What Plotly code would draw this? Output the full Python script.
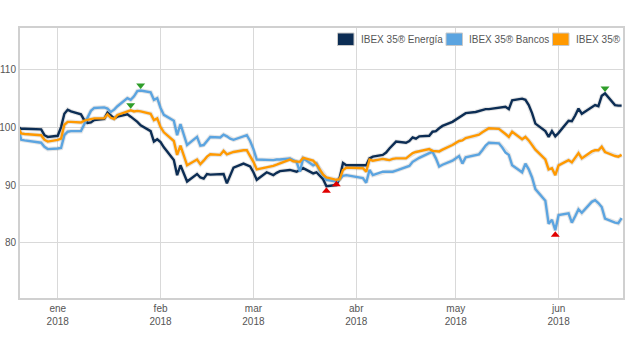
import plotly.graph_objects as go
import numpy as np

dates = [
    "2017-12-20", "2017-12-21", "2017-12-22", "2017-12-27", "2017-12-28", "2017-12-29",
    "2018-01-01", "2018-01-02", "2018-01-03", "2018-01-04", "2018-01-05", "2018-01-08",
    "2018-01-09", "2018-01-10", "2018-01-11", "2018-01-12", "2018-01-15", "2018-01-16",
    "2018-01-17", "2018-01-18", "2018-01-19", "2018-01-22", "2018-01-23", "2018-01-24",
    "2018-01-25", "2018-01-26", "2018-01-29", "2018-01-30", "2018-01-31", "2018-02-01",
    "2018-02-02", "2018-02-05", "2018-02-06", "2018-02-07", "2018-02-08", "2018-02-09",
    "2018-02-12", "2018-02-13", "2018-02-14", "2018-02-15", "2018-02-16", "2018-02-19",
    "2018-02-20", "2018-02-21", "2018-02-22", "2018-02-23", "2018-02-26", "2018-02-27",
    "2018-02-28", "2018-03-01", "2018-03-02", "2018-03-05", "2018-03-06", "2018-03-07",
    "2018-03-08", "2018-03-09", "2018-03-12", "2018-03-13", "2018-03-14", "2018-03-15",
    "2018-03-16", "2018-03-19", "2018-03-20", "2018-03-21", "2018-03-22", "2018-03-23",
    "2018-03-26", "2018-03-27", "2018-03-28", "2018-03-29", "2018-04-03", "2018-04-04",
    "2018-04-05", "2018-04-06", "2018-04-09", "2018-04-10", "2018-04-11", "2018-04-12",
    "2018-04-13", "2018-04-16", "2018-04-17", "2018-04-18", "2018-04-19", "2018-04-20",
    "2018-04-23", "2018-04-24", "2018-04-25", "2018-04-26", "2018-04-27", "2018-04-30",
    "2018-05-02", "2018-05-03", "2018-05-04", "2018-05-07", "2018-05-08", "2018-05-09",
    "2018-05-10", "2018-05-11", "2018-05-14", "2018-05-15", "2018-05-16", "2018-05-17",
    "2018-05-18", "2018-05-21", "2018-05-22", "2018-05-23", "2018-05-24", "2018-05-25",
    "2018-05-28", "2018-05-29", "2018-05-30", "2018-05-31", "2018-06-01", "2018-06-04",
    "2018-06-05", "2018-06-06", "2018-06-07", "2018-06-08", "2018-06-11", "2018-06-12",
    "2018-06-13", "2018-06-14", "2018-06-15", "2018-06-18", "2018-06-19", "2018-06-20",
]

energia = [
    100.0, 99.7, 99.7, 99.6, 98.6, 98.3,
    98.5, 100.0, 102.3, 103.0, 102.7, 102.2,
    101.2, 100.7, 100.8, 101.2, 101.4, 102.5,
    102.0, 101.5, 101.8, 102.2, 101.8, 101.4,
    100.9, 100.3, 99.3, 97.5, 97.9, 97.4,
    96.5, 94.3, 91.7, 93.4, 92.0, 90.6,
    91.9, 91.3, 91.1, 91.9, 91.8, 91.8,
    91.9, 90.3, 91.8, 93.0, 93.7, 93.5,
    93.2, 92.2, 90.9, 92.2, 92.0, 91.7,
    92.1, 92.4, 92.6, 92.4, 92.3, 92.6,
    92.9, 92.0, 92.2, 91.6, 91.0, 89.8,
    90.0, 91.2, 93.8, 93.4, 93.4, 93.4,
    94.6, 94.9, 95.2, 95.6, 96.3, 97.0,
    97.5, 97.3, 97.6, 98.2, 98.0, 98.4,
    98.5, 99.2, 99.3, 99.8, 100.2, 100.9,
    101.6, 101.9, 102.4, 102.6, 102.8, 102.9,
    103.1, 103.1, 103.4, 103.4, 103.5, 103.1,
    104.6, 104.9, 104.7, 103.8, 102.4, 100.6,
    99.3, 98.3, 99.3, 98.4, 99.0, 101.1,
    101.0, 102.0, 103.2, 102.3, 103.4, 103.8,
    103.6, 105.4, 105.8, 103.8, 103.7, 103.7,
]

bancos = [
    100.0, 97.8, 97.7, 97.3, 96.6, 96.2,
    96.3, 96.4, 98.6, 99.2, 99.3, 99.3,
    100.5, 101.6, 102.8, 103.3, 103.4, 103.2,
    102.6, 103.0, 103.6, 105.0, 104.7, 105.3,
    106.2, 106.3, 106.0, 104.7, 105.0, 103.3,
    102.1, 101.1, 98.6, 100.5, 98.6, 96.9,
    98.3, 96.8, 96.9, 97.6, 98.3, 98.2,
    98.7, 98.4, 98.0, 97.8, 98.4, 98.6,
    97.6, 96.2, 94.4, 94.3, 94.3, 94.3,
    94.4, 94.4, 94.6, 94.3, 94.0, 92.3,
    94.6, 93.4, 93.7, 92.4, 91.6, 90.9,
    90.6, 91.0, 91.6, 91.7, 91.2, 90.4,
    92.6, 91.7, 92.3, 92.3, 92.3, 92.3,
    92.5, 93.0, 93.3, 94.0, 94.4, 94.7,
    95.5, 95.7, 94.6, 93.2, 93.5, 94.2,
    95.0, 93.7, 94.8, 95.1, 95.3, 96.0,
    96.8, 97.3, 97.2, 96.5, 95.6, 95.2,
    93.4, 92.2, 93.7, 92.7, 91.3, 89.3,
    87.3, 83.3, 84.0, 82.2, 84.8, 85.1,
    83.5, 84.6, 85.8, 85.2, 87.1, 87.4,
    86.9, 86.2, 84.2, 83.5, 83.4, 84.3,
]

ibex = [
    100.0, 98.9, 98.8, 98.6, 97.8, 97.5,
    97.8, 98.0, 100.4, 100.9, 100.9, 100.8,
    101.1, 101.2, 101.4, 101.5, 101.5, 102.2,
    101.6, 101.4, 102.1, 102.7, 102.9, 102.7,
    102.8, 102.7, 102.3, 101.2, 101.5, 100.0,
    99.1, 97.6, 95.2, 96.8, 95.0, 93.4,
    94.4, 93.6, 94.2, 94.9, 95.3, 95.2,
    95.9, 95.3, 95.5, 95.7, 96.0, 96.0,
    95.0, 94.0, 92.7, 93.0, 93.1, 93.3,
    93.5, 93.7, 94.4, 94.1, 94.0, 94.0,
    94.7, 94.2, 93.6, 92.8, 91.8, 91.3,
    90.9, 91.0, 92.6, 93.0, 92.9, 92.3,
    94.4, 94.2, 94.5, 94.4, 94.3, 94.5,
    94.6, 94.6, 95.0, 95.5, 95.7, 95.8,
    96.2, 95.9, 95.8, 95.8, 96.1, 96.9,
    97.6, 97.7, 98.1, 98.5, 98.7, 99.1,
    99.5, 99.8, 99.7, 99.3, 98.8, 98.3,
    99.2, 97.9, 98.3, 97.7, 97.0, 96.1,
    94.4, 92.7, 92.9, 91.7, 93.4, 94.3,
    93.9, 94.6, 95.5, 94.6, 95.8, 96.0,
    96.0, 96.6, 95.7, 95.0, 94.9, 95.2,
]

series_names = ["IBEX 35® Energía", "IBEX 35® Bancos", "IBEX 35®"]
series_values = [energia, bancos, ibex]
series_colors = ["#0c2d54", "#5ba4e0", "#ff9900"]

tick_dates = ["2018-01-01", "2018-02-01", "2018-03-01", "2018-04-01", "2018-05-01", "2018-06-01"]
tick_labels = ["ene<br>2018", "feb<br>2018", "mar<br>2018", "abr<br>2018", "may<br>2018", "jun<br>2018"]
y_ticks = [80, 90, 100, 110]

fig = go.Figure()

# draw in order so orange on top-ish like reference
for name, vals, col in zip(series_names, series_values, series_colors):
    fig.add_trace(go.Scatter(
        x=dates, y=vals, mode="lines", name=name,
        line=dict(color="rgba(0,0,0,0.10)", width=4.5),
        hoverinfo="skip", showlegend=False,
    ))
for name, vals, col in zip(series_names, series_values, series_colors):
    fig.add_trace(go.Scatter(
        x=dates, y=vals, mode="lines", name=name,
        line=dict(color=col, width=2.4),
        showlegend=False,
    ))

shapes = []
# max / min markers
for vals in series_values:
    arr = np.array(vals)
    imax = int(arr.argmax())
    imin = int(arr.argmin())
    shapes.append(dict(
        type="path", xref="x", yref="y", xsizemode="pixel", ysizemode="pixel",
        xanchor=dates[imax], yanchor=vals[imax],
        path="M-4.5,7 L4.5,7 L0,1.5 Z",
        fillcolor="#2f9e2a", line=dict(width=0), layer="above",
    ))
    shapes.append(dict(
        type="path", xref="x", yref="y", xsizemode="pixel", ysizemode="pixel",
        xanchor=dates[imin], yanchor=vals[imin],
        path="M-4.5,-6.5 L4.5,-6.5 L0,-1 Z",
        fillcolor="#e00000", line=dict(width=0), layer="above",
    ))

# manual legend (boxes + labels), in pixel-derived paper coords
W, H = 634, 341
ml, mr, mt, mb = 20, 11, 28, 43
pw, ph = W - ml - mr, H - mt - mb

def px(x):
    return (x - ml) / pw

def py(y):
    return (H - mb - y) / ph

legend_boxes = [337.5, 446.0, 552.5]
legend_texts = [358.5, 467.0, 574.0]
annotations = []
for name, col, bx, tx in zip(series_names, series_colors, legend_boxes, legend_texts):
    shapes.append(dict(
        type="rect", xref="paper", yref="paper",
        x0=px(bx), x1=px(bx + 16.5), y0=py(45.5), y1=py(33),
        fillcolor=col, line=dict(color="#c8c8c8", width=1), layer="above",
    ))
    annotations.append(dict(
        xref="paper", yref="paper", x=px(tx), y=py(39.5),
        xanchor="left", yanchor="middle", showarrow=False,
        text=name, font=dict(family="Liberation Sans, Arial", size=10, color="#555555"),
    ))

fig.update_layout(
    width=W, height=H,
    margin=dict(l=ml, r=mr, t=mt, b=mb),
    paper_bgcolor="white", plot_bgcolor="white",
    showlegend=False,
    hovermode=False,
    shapes=shapes,
    annotations=annotations,
    font=dict(family="Liberation Sans, Arial", size=10, color="#555555"),
    xaxis=dict(
        type="date",
        range=["2017-12-20 15:00", "2018-06-20 10:00"],
        tickvals=tick_dates, ticktext=tick_labels,
        showgrid=True, gridcolor="#d9d9d9", gridwidth=1,
        showline=True, linecolor="#d0d0d0", linewidth=2, mirror=True,
        ticks="", zeroline=False,
        tickfont=dict(size=10, color="#555555"),
    ),
    yaxis=dict(
        range=[70.5, 117.1],
        tickvals=y_ticks,
        showgrid=True, gridcolor="#d9d9d9", gridwidth=1,
        showline=True, linecolor="#d0d0d0", linewidth=2, mirror=True,
        ticks="", zeroline=False, automargin=False,
        tickfont=dict(size=10, color="#555555"),
    ),
)

fig.write_html("out.html")
